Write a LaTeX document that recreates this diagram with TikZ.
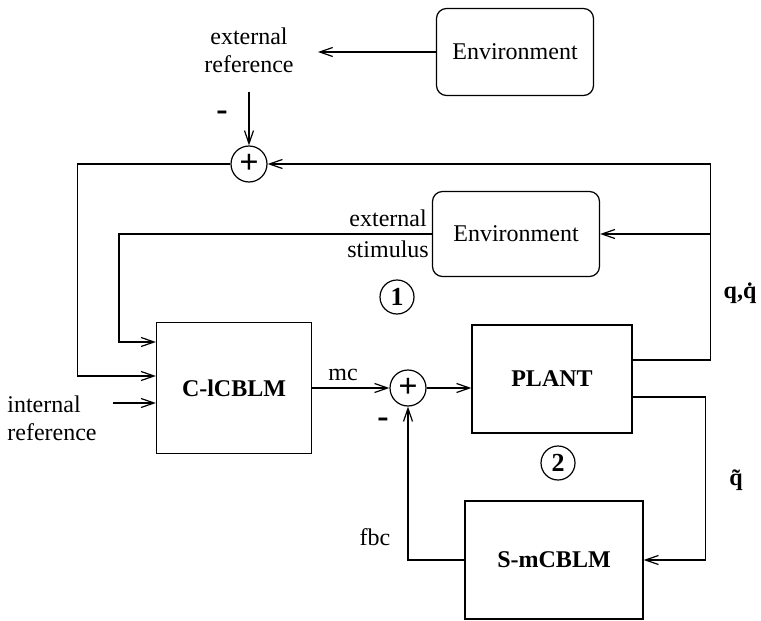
\documentclass[tikz,border=0pt]{standalone}
\usepackage{fontspec}
\setmainfont{Liberation Serif}
\usepackage{tikz}
\usetikzlibrary{arrows.meta}

\begin{document}
\begin{tikzpicture}[
  x=0.5pt, y=-0.5pt,
  every node/.style={font=\fontsize{12}{14}\selectfont},
  blk/.style={
    draw, line width=0.6pt, align=center,
    font=\fontsize{12}{14}\selectfont\bfseries
  },
  envbox/.style={
    draw, line width=0.6pt, rounded corners=5pt, align=center
  },
  sum/.style={draw, circle, line width=0.6pt, minimum size=18pt, inner sep=0pt,
    font=\fontsize{17}{17}\selectfont\bfseries},
  circnum/.style={draw, circle, line width=0.6pt, minimum size=17pt, inner sep=0pt,
    font=\fontsize{13}{14}\selectfont\bfseries},
  sgn/.style={font=\fontsize{17}{17}\selectfont\bfseries},
  arr/.style={-{Straight Barb[length=6.5pt,width=4.5pt]}, line width=0.6pt}
]
\useasboundingbox (0,0) rectangle (761,621);

% blocks
\node[envbox, minimum width=78.5pt, minimum height=43.5pt] (env1) at (515,52) {Environment};
\node[align=center] (extref) at (249,50) {external\\reference};
\node[sum] (sum1) at (249,164) {+};
\node[envbox, minimum width=83.5pt, minimum height=42.5pt] (env2) at (516,234) {Environment};
\node[circnum] (one) at (397,297) {1};
\node[blk, minimum width=77.5pt, minimum height=65.5pt] (ctrl) at (234,388) {C-lCBLM};
\node[blk, minimum width=80pt, minimum height=54pt] (plant) at (552,379) {PLANT};
\node[sum] (sum2) at (408,388) {+};
\node[circnum] (two) at (558,463) {2};
\node[blk, minimum width=89pt, minimum height=59pt] (smod) at (554,560) {S-mCBLM};
\node[align=left] (intref) at (52,418) {internal\\reference};

% signs and labels
\node[sgn] (minus1) at (222,116) {-};
\node[sgn] (minus2) at (383,423) {-};
\node (fbc) at (375,537) {fbc};
\node[font=\fontsize{12}{14}\selectfont\bfseries] (qqd) at (740,293) {q,\.q};
\node[font=\fontsize{12}{14}\selectfont\bfseries] (qt) at (736,480) {\~q};

% connectors
\draw[arr] (env1.west) -- ++(-118,0);
\draw[arr] ([yshift=-6pt]extref.south) -- (sum1.north);
\draw[arr] (sum1.west) -- ++(-153,0) |- ([yshift=6pt]ctrl.west);
\draw[arr] ([yshift=9.5pt]plant.east) -- ++(78,0) |- (sum1.east);
\draw[arr] (env2.east) ++(110,0) -- (env2.east);
\draw[arr] (env2.west) -- node[pos=0.14, above] {external} node[pos=0.14, below] {stimulus}
  ++(-313,0) |- ([yshift=23pt]ctrl.west);
\draw[arr] ([yshift=-7.5pt]ctrl.west) ++(-43,0) -- ([yshift=-7.5pt]ctrl.west);
\draw[arr] (ctrl.east) -- node[above, pos=0.4] {mc} (sum2.west);
\draw[arr] (sum2.east) -- (sum2.east -| plant.west);
\draw[arr] ([yshift=-9pt]plant.east) -- ++(73,0) |- (smod.east);
\draw[arr] (smod.west) -| (sum2.south);
\end{tikzpicture}
\end{document}
